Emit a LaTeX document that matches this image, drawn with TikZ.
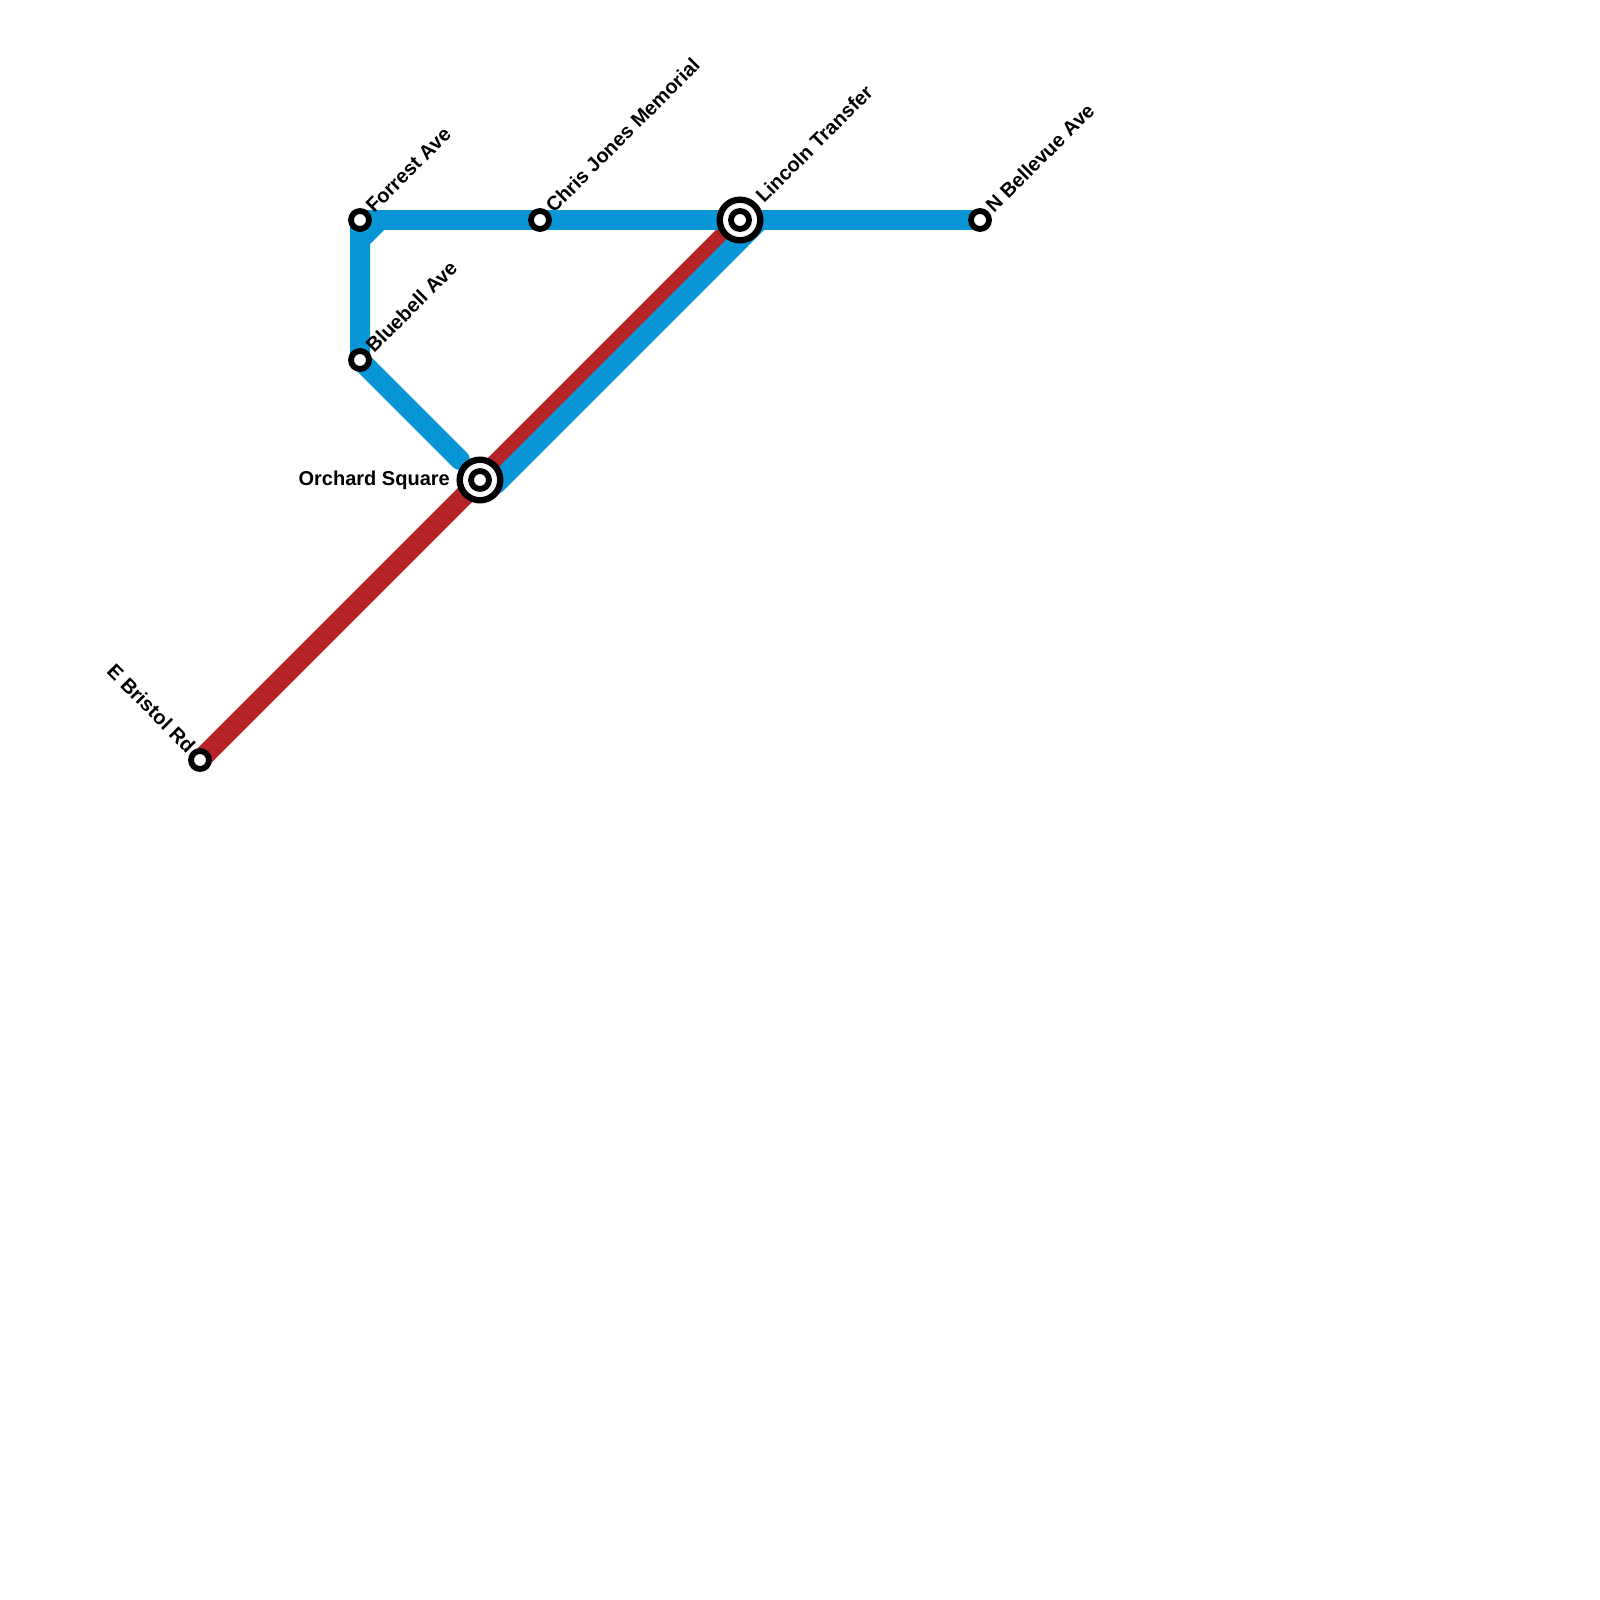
\documentclass[tikz,border=0pt]{standalone}
\usepackage{fontspec}
\setmainfont{Liberation Sans}
\definecolor{lineblue}{HTML}{0896D7}
\definecolor{linered}{HTML}{B52528}
\tikzset{
  track/.style={line width=20pt,line cap=round,line join=round},
  bluetrack/.style={track,draw=lineblue},
  redtrack/.style={track,draw=linered},
  stopdot/.style={circle,draw=black,fill=white,line width=5.8pt,minimum size=18pt,inner sep=0pt},
  hubouter/.style={circle,draw=black,fill=white,line width=6.4pt,minimum size=40.6pt,inner sep=0pt},
  stname/.style={font=\bfseries\fontsize{20pt}{24pt}\selectfont,inner sep=0pt,text=black}
}
\begin{document}
\begin{tikzpicture}[x=1pt,y=-1pt]
\useasboundingbox (0,0) rectangle (1600,1600);
\coordinate (forrestP) at (360,220);
\coordinate (bluebellP) at (360,360);
\coordinate (chrisP) at (540,220);
\coordinate (lincolnP) at (740,220);
\coordinate (bellevueP) at (980,220);
\coordinate (orchardP) at (480,480);
\coordinate (bristolP) at (200,760);
\coordinate (chamA) at (360,240);
\coordinate (chamB) at (380,220);
\coordinate (inA) at (460,460);
\coordinate (inB) at (496,484);
\coordinate (inC) at (760,220);
% red line
\draw[redtrack] (bristolP) -- (orchardP) -- (lincolnP);
% blue line
\draw[bluetrack] (forrestP) -- (chrisP) -- (lincolnP) -- (bellevueP);
\draw[bluetrack] (forrestP) -- (bluebellP) -- (inA);
\draw[bluetrack] (chamA) -- (chamB);
\draw[bluetrack] (inB) -- (inC);
% stations
\node[stopdot] (forrest) at (forrestP) {};
\node[stopdot] (bluebell) at (bluebellP) {};
\node[stopdot] (chris) at (chrisP) {};
\node[stopdot] (bellevue) at (bellevueP) {};
\node[stopdot] (bristol) at (bristolP) {};
\node[hubouter] (orchard) at (orchardP) {};
\node[stopdot] (orchardin) at (orchardP) {};
\node[hubouter] (lincoln) at (lincolnP) {};
\node[stopdot] (lincolnin) at (lincolnP) {};
% labels
\node[stname,rotate=45,anchor=base west] (lforrest) at ([shift={(14,-6)}]forrestP) {Forrest Ave};
\node[stname,rotate=45,anchor=base west] (lbluebell) at ([shift={(14,-6)}]bluebellP) {Bluebell Ave};
\node[stname,rotate=45,anchor=base west] (lchris) at ([shift={(14,-6)}]chrisP) {Chris Jones Memorial};
\node[stname,rotate=45,anchor=base west] (llincoln) at ([shift={(24,-16)}]lincolnP) {Lincoln Transfer};
\node[stname,rotate=45,anchor=base west] (lbellevue) at ([shift={(14,-6)}]bellevueP) {N Bellevue Ave};
\node[stname,anchor=base east] (lorchard) at ([shift={(-30,5)}]orchardP) {Orchard Square};
\node[stname,rotate=-45,anchor=base east] (lbristol) at ([shift={(-13,-6)}]bristolP) {E Bristol Rd};
\end{tikzpicture}
\end{document}
